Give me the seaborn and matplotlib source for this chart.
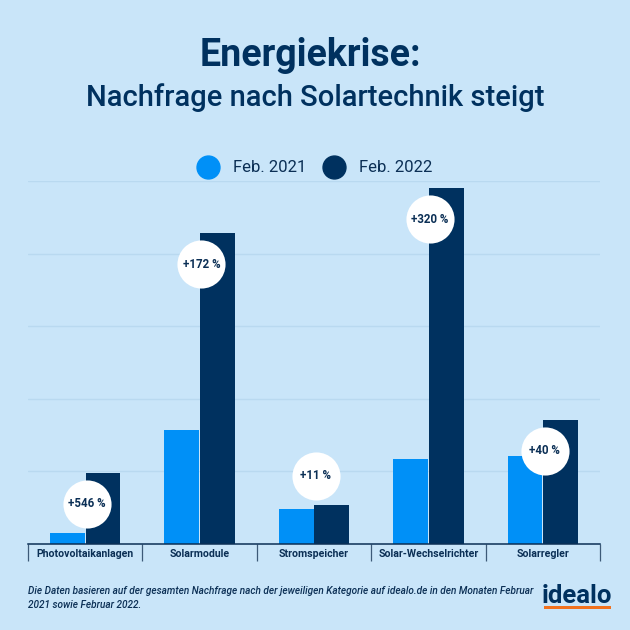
import matplotlib
matplotlib.use("Agg")
import matplotlib.pyplot as plt
import pandas as pd
import seaborn as sns
from matplotlib.lines import Line2D
from matplotlib.patches import Rectangle

categories = ["Photovoltaikanlagen", "Solarmodule", "Stromspeicher", "Solar-Wechselrichter", "Solarregler"]
feb_2021 = [0.15, 1.57, 0.48, 1.17, 1.21]
feb_2022 = [0.98, 4.28, 0.54, 4.90, 1.71]
changes = ["+546 %", "+172 %", "+11 %", "+320 %", "+40 %"]
series_names = ["Feb. 2021", "Feb. 2022"]

BG = "#C9E5F9"
LIGHT = "#0090F7"
DARK = "#00315F"
TEXT = "#0B2F55"
GRID = "#B9D9F0"

W, H = 630, 630

sns.set_theme(style="white")
plt.rcParams["font.family"] = ["Roboto", "DejaVu Sans"]

df = pd.DataFrame({"category": categories, series_names[0]: feb_2021, series_names[1]: feb_2022})
long_df = df.melt(id_vars="category", var_name="month", value_name="value")

fig = plt.figure(figsize=(6.3, 6.3), dpi=100, facecolor=BG)
ax = fig.add_axes([28 / W, 1 - 544 / H, 572 / W, (544 - 181) / H], facecolor=BG)

sns.barplot(data=long_df, x="category", y="value", hue="month", order=categories,
            hue_order=series_names, palette=[LIGHT, DARK], width=0.62, gap=0.02,
            saturation=1, legend=False, ax=ax, zorder=2, linewidth=0, edgecolor="none")

ax.set_xlim(-0.5, 4.5)
ax.set_ylim(0, 5)
ax.set_xlabel("")
ax.set_ylabel("")
ax.set_yticks([1, 2, 3, 4, 5])
ax.set_yticklabels([])
ax.tick_params(axis="y", length=0)
ax.grid(True, axis="y", color=GRID, linewidth=1, zorder=0)
ax.set_axisbelow(True)
for side in ["top", "left", "right"]:
    ax.spines[side].set_visible(False)
ax.spines["bottom"].set_color(TEXT)
ax.spines["bottom"].set_linewidth(1.1)

# group separators hanging below the axis
ax.set_xticks([i - 0.5 for i in range(len(categories) + 1)], minor=True)
ax.tick_params(axis="x", which="minor", length=12.5, width=0.9, color="#3d5a78", bottom=True)
ax.tick_params(axis="x", which="major", length=0, pad=3.5)
ax.set_xticks(range(len(categories)))
ax.set_xticklabels(categories, fontsize=7.6, fontweight="bold", color=TEXT)

# white bubbles sit just below the dark bar top, except the small Stromspeicher one
px = 5 / 363
for i, (val, label) in enumerate(zip(feb_2022, changes)):
    y = val + 29 * px if label == "+11 %" else val - 31 * px
    ax.scatter(i + 0.015, y, s=1200, color="white", linewidth=0, zorder=5, clip_on=False)
    ax.text(i + 0.015, y, label, ha="center", va="center", fontsize=8.3,
            fontweight="bold", color=TEXT, zorder=6)

handles = [Line2D([], [], linestyle="none", marker="o", markersize=16.5, color=c)
           for c in [LIGHT, DARK]]
fig.legend(handles, series_names, loc="center", bbox_to_anchor=(312 / W, 1 - 168 / H), ncol=2,
           frameon=False, fontsize=12, labelcolor=TEXT, handletextpad=0.5, columnspacing=0.7)

fig.text(310 / W, 1 - 55 / H, "Energiekrise:", ha="center", va="center", fontsize=27,
         fontweight="bold", color=DARK)
fig.text(315.5 / W, 1 - 98 / H, "Nachfrage nach Solartechnik steigt", ha="center", va="center",
         fontsize=21, fontweight="medium", color=DARK)

fig.text(28 / W, 1 - 590.5 / H,
         "Die Daten basieren auf der gesamten Nachfrage nach der jeweiligen Kategorie auf idealo.de in den Monaten Februar",
         ha="left", va="center", fontsize=7.2, style="italic", fontweight="medium", color=TEXT)
fig.text(28 / W, 1 - 605 / H, "2021 sowie Februar 2022.", ha="left", va="center",
         fontsize=7.2, style="italic", fontweight="medium", color=TEXT)

fig.text(577 / W, 1 - 596 / H, "idealo", ha="center", va="center", fontsize=18.5,
         fontweight="bold", color=DARK)
fig.add_artist(Rectangle((544 / W, 1 - 609 / H), 67 / W, 3 / H, transform=fig.transFigure,
                         facecolor="#F0711E", edgecolor="none"))

fig.savefig("out.png", dpi=100, facecolor=BG)
